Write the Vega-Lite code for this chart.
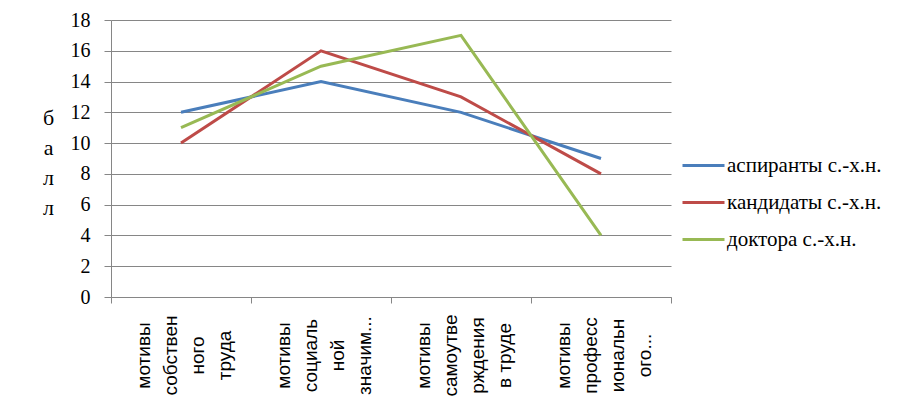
{
  "$schema": "https://vega.github.io/schema/vega-lite/v6.json",
  "width": 560,
  "height": 277,
  "autosize": {"type": "none"},
  "padding": {"left": 111, "top": 20, "right": 249, "bottom": 110},
  "background": "white",
  "config": {
    "view": {"stroke": null},
    "axis": {"domainColor": "#868686", "tickColor": "#868686", "gridColor": "#868686", "domainWidth": 1, "tickWidth": 1, "gridWidth": 1}
  },
  "data": {
    "values": [
      {"cat": "мотивы|собствен|ного|труда", "series": "аспиранты с.-х.н.", "value": 12},
      {"cat": "мотивы|социаль|ной|значим...", "series": "аспиранты с.-х.н.", "value": 14},
      {"cat": "мотивы|самоутве|рждения|в труде", "series": "аспиранты с.-х.н.", "value": 12},
      {"cat": "мотивы|професс|иональн|ого...", "series": "аспиранты с.-х.н.", "value": 9},
      {"cat": "мотивы|собствен|ного|труда", "series": "кандидаты с.-х.н.", "value": 10},
      {"cat": "мотивы|социаль|ной|значим...", "series": "кандидаты с.-х.н.", "value": 16},
      {"cat": "мотивы|самоутве|рждения|в труде", "series": "кандидаты с.-х.н.", "value": 13},
      {"cat": "мотивы|професс|иональн|ого...", "series": "кандидаты с.-х.н.", "value": 8},
      {"cat": "мотивы|собствен|ного|труда", "series": "доктора с.-х.н.", "value": 11},
      {"cat": "мотивы|социаль|ной|значим...", "series": "доктора с.-х.н.", "value": 15},
      {"cat": "мотивы|самоутве|рждения|в труде", "series": "доктора с.-х.н.", "value": 17},
      {"cat": "мотивы|професс|иональн|ого...", "series": "доктора с.-х.н.", "value": 4}
    ]
  },
  "mark": {"type": "line", "strokeWidth": 3},
  "encoding": {
    "x": {
      "field": "cat",
      "type": "nominal",
      "sort": null,
      "scale": {"type": "band", "paddingInner": 0, "paddingOuter": 0},
      "axis": {
        "title": null,
        "tickBand": "extent",
        "tickSize": 6,
        "labelAngle": -90,
        "labelAlign": "center",
        "labelBaseline": "middle",
        "labelPadding": 52,
        "labelOffset": -38,
        "labelExpr": "split(datum.label, '|')",
        "labelLineHeight": 27,
        "labelFont": "Liberation Sans",
        "labelFontSize": 19,
        "labelColor": "black",
        "labelLimit": 0,
        "labelOverlap": false,
        "labelBound": false,
        "grid": false
      }
    },
    "y": {
      "field": "value",
      "type": "quantitative",
      "scale": {"domain": [0, 18], "nice": false},
      "axis": {
        "values": [0, 2, 4, 6, 8, 10, 12, 14, 16, 18],
        "tickSize": 7,
        "labelPadding": 14,
        "labelFont": "Liberation Serif",
        "labelFontSize": 20,
        "labelColor": "black",
        "grid": true,
        "title": ["б", "а", "л", "л"],
        "titleAngle": 0,
        "titleFont": "Liberation Serif",
        "titleFontSize": 22,
        "titleFontWeight": "normal",
        "titleColor": "black",
        "titleLineHeight": 30,
        "titleAlign": "center",
        "titleBaseline": "middle",
        "titleX": -63,
        "titleY": 97
      }
    },
    "color": {
      "field": "series",
      "type": "nominal",
      "sort": null,
      "scale": {
        "domain": ["аспиранты с.-х.н.", "кандидаты с.-х.н.", "доктора с.-х.н."],
        "range": ["#4A7EBB", "#BE4B48", "#98B954"]
      },
      "legend": {
        "title": null,
        "orient": "none",
        "legendX": 570,
        "legendY": 123,
        "symbolType": "stroke",
        "symbolStrokeWidth": 3,
        "symbolSize": 1764,
        "labelFont": "Liberation Serif",
        "labelFontSize": 21,
        "labelColor": "black",
        "labelOffset": 1,
        "labelLimit": 0,
        "rowPadding": 4
      }
    }
  }
}
